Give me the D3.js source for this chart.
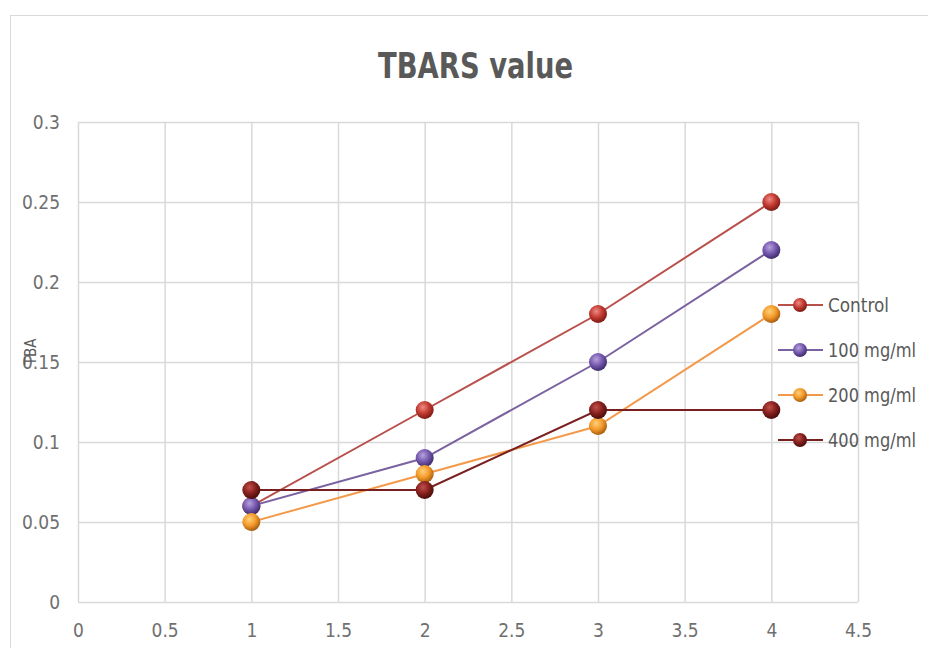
<!DOCTYPE html>
<html>
<head>
<meta charset="utf-8">
<script src="https://cdn.jsdelivr.net/npm/d3@7"></script>
<style>
  body { margin: 0; background: #fff; }
  text { font-family: "Liberation Sans Narrow", "DejaVu Sans", sans-serif; font-stretch: condensed; fill: #595959; }
</style>
</head>
<body>
<svg id="chart" width="928" height="648"></svg>
<script>
// data
var xValues = [1, 2, 3, 4];
var seriesNames = ["Control", "100 mg/ml", "200 mg/ml", "400 mg/ml"];
var control = [0.06, 0.12, 0.18, 0.25];
var mg100 = [0.06, 0.09, 0.15, 0.22];
var mg200 = [0.05, 0.08, 0.11, 0.18];
var mg400 = [0.07, 0.07, 0.12, 0.12];
var xTicks = [0, 0.5, 1, 1.5, 2, 2.5, 3, 3.5, 4, 4.5];
var yTicks = [0, 0.05, 0.1, 0.15, 0.2, 0.25, 0.3];

var seriesValues = [control, mg100, mg200, mg400];
var lineColors = ["#b9504c", "#7a62a0", "#f39a4a", "#7a1f1f"];
var markerColors = [
  ["#f08a86", "#c0392f", "#7e1b16"],
  ["#b7a2dc", "#7558ae", "#3f2c6c"],
  ["#ffd07a", "#f39a2a", "#a85e10"],
  ["#c2504c", "#85201d", "#4a0d0b"]
];

var svg = d3.select("#chart");

// outer frame
svg.append("rect")
  .attr("x", 10.5).attr("y", 15.5)
  .attr("width", 940).attr("height", 660)
  .attr("fill", "#fff").attr("stroke", "#d9d9d9");

var plotLeft = 78, plotRight = 858, plotTop = 122, plotBottom = 602;

var xScale = d3.scaleLinear().domain([0, 4.5]).range([plotLeft, plotRight]);
var yScale = d3.scaleLinear().domain([0, 0.3]).range([plotBottom, plotTop]);

// gradients for the shiny markers
var defs = svg.append("defs");
markerColors.forEach(function(c, i) {
  var g = defs.append("radialGradient")
    .attr("id", "grad" + i)
    .attr("cx", "40%").attr("cy", "35%").attr("r", "65%");
  g.append("stop").attr("offset", "0%").attr("stop-color", c[0]);
  g.append("stop").attr("offset", "55%").attr("stop-color", c[1]);
  g.append("stop").attr("offset", "100%").attr("stop-color", c[2]);
});

// grid
svg.append("g").selectAll("line")
  .data(yTicks).join("line")
  .attr("x1", plotLeft).attr("x2", plotRight)
  .attr("y1", d => yScale(d) + 0.5).attr("y2", d => yScale(d) + 0.5)
  .attr("stroke", "#d9d9d9").attr("stroke-width", 1.5);

svg.append("g").selectAll("line")
  .data(xTicks).join("line")
  .attr("x1", d => xScale(d) + 0.5).attr("x2", d => xScale(d) + 0.5)
  .attr("y1", plotTop).attr("y2", plotBottom)
  .attr("stroke", "#d9d9d9").attr("stroke-width", 1.5);

// axes
var yAxis = d3.axisLeft(yScale).tickValues(yTicks).tickSize(0).tickPadding(18)
  .tickFormat(d => String(+d.toFixed(2)));
svg.append("g").attr("transform", `translate(${plotLeft},0)`).call(yAxis)
  .call(g => g.select(".domain").remove())
  .selectAll("text")
  .attr("font-size", 19).style("fill", "#6f6f6f");

var xAxis = d3.axisBottom(xScale).tickValues(xTicks).tickSize(0).tickPadding(22)
  .tickFormat(d => String(d));
svg.append("g").attr("transform", `translate(0,${plotBottom})`).call(xAxis)
  .call(g => g.select(".domain").remove())
  .selectAll("text")
  .attr("font-size", 19).style("fill", "#6f6f6f");

// title
svg.append("text")
  .attr("x", 378).attr("y", 78)
  .attr("font-size", 36).attr("font-weight", 600)
  .attr("textLength", 195).attr("lengthAdjust", "spacingAndGlyphs")
  .text("TBARS  value");

// y axis title
svg.append("text")
  .attr("transform", "translate(36,352) rotate(-90)")
  .attr("text-anchor", "middle")
  .attr("font-size", 15)
  .text("TBA");

// lines
var line = d3.line()
  .x((d, i) => xScale(xValues[i]))
  .y(d => yScale(d));

seriesValues.forEach(function(vals, s) {
  svg.append("path")
    .datum(vals)
    .attr("fill", "none")
    .attr("stroke", lineColors[s])
    .attr("stroke-width", 2)
    .attr("d", line);
});

seriesValues.forEach(function(vals, s) {
  svg.append("g").selectAll("circle")
    .data(vals).join("circle")
    .attr("cx", (d, i) => xScale(xValues[i]))
    .attr("cy", d => yScale(d))
    .attr("r", 9)
    .attr("fill", "url(#grad" + s + ")");
});

// legend
var legend = svg.append("g").attr("transform", "translate(778,305)");
seriesNames.forEach(function(name, i) {
  var row = legend.append("g").attr("transform", `translate(0,${i * 45})`);
  row.append("line")
    .attr("x1", 0).attr("x2", 45).attr("y1", 0).attr("y2", 0)
    .attr("stroke", lineColors[i]).attr("stroke-width", 2);
  row.append("circle")
    .attr("cx", 22).attr("cy", 0).attr("r", 7)
    .attr("fill", "url(#grad" + i + ")");
  row.append("text")
    .attr("x", 50).attr("y", 7)
    .attr("font-size", 19)
    .attr("textLength", name === "Control" ? 61 : 88)
    .attr("lengthAdjust", "spacingAndGlyphs")
    .text(name);
});
</script>
</body>
</html>
